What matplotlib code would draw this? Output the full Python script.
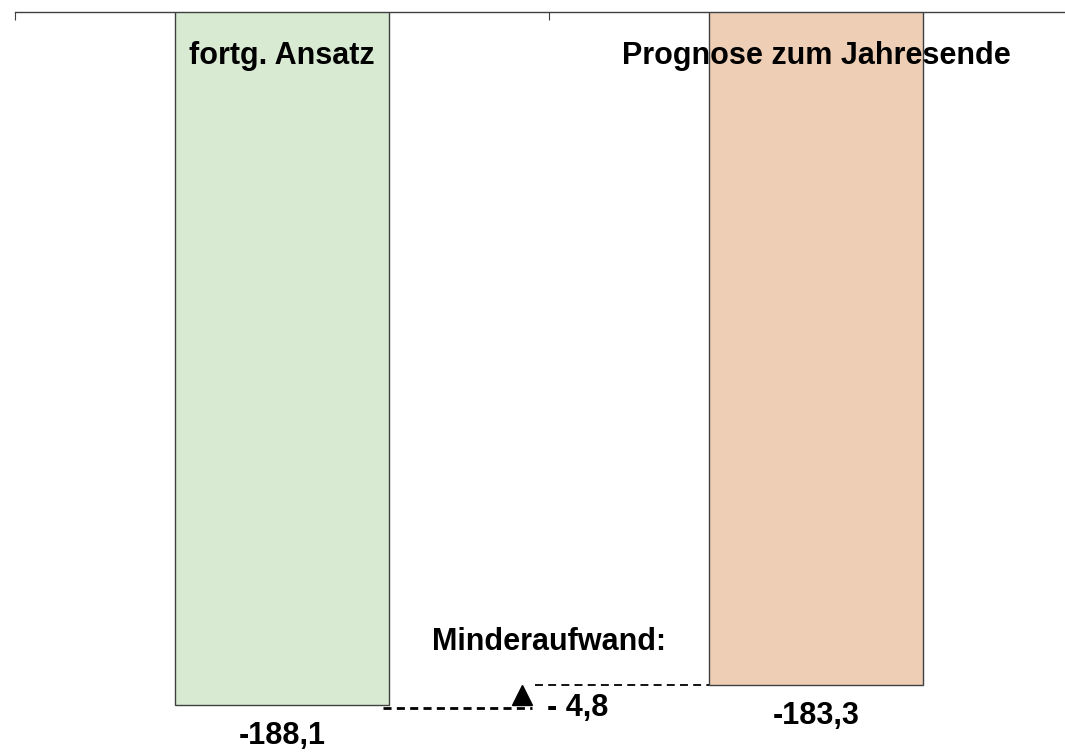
import matplotlib.pyplot as plt

plt.rcParams['font.family'] = ['Liberation Sans', 'DejaVu Sans']

# data
categories = ['fortg. Ansatz', 'Prognose zum Jahresende']
values = [-188.1, -183.3]
value_labels = ['-188,1', '-183,3']
diff_label = '- 4,8'
diff_title = 'Minderaufwand:'
bar_colors = ['#d9ead3', '#eecfb5']

fig = plt.figure(figsize=(10.65, 7.53), dpi=100)
ax = fig.add_axes([15 / 1065, 0, 1068 / 1065, 741 / 753])

x = [0, 1]
width = 0.4
ax.bar(x, values, width=width, color=bar_colors, edgecolor='#404040', linewidth=1.0)

ax.set_xlim(-0.5, 1.5)
ax.set_ylim(-199.6, -21.8)

for s in ['left', 'right', 'bottom']:
    ax.spines[s].set_visible(False)
ax.spines['top'].set_color('#404040')
ax.spines['top'].set_linewidth(1.0)
ax.xaxis.tick_top()
ax.set_xticks([-0.5, 0.5, 1.5])
ax.set_xticklabels([])
ax.tick_params(axis='x', direction='in', length=6, width=0.8, color='#404040')
ax.set_yticks([])

fs = 22
# category labels near the top
for xi, cat in zip(x, categories):
    ax.text(xi, 0.94, cat, transform=ax.get_xaxis_transform(), ha='center', va='center',
            fontsize=fs, fontweight='bold')

# value labels under bars
for xi, v, lab in zip(x, values, value_labels):
    ax.annotate(lab, (xi, v), xytext=(0, -22), textcoords='offset points',
                ha='center', va='center', fontsize=fs, fontweight='bold')

# difference connector
arrow_x = 0.45
mid = (values[0] + values[1]) / 2
ax.plot([x[0] + width / 2 - 0.011, arrow_x + 0.018], [values[0] - 0.6, values[0] - 0.6],
        color='black', linewidth=2.0, dashes=(2.9, 1.9))
ax.plot([arrow_x + 0.024, x[1] - width / 2], [values[1], values[1]],
        color='black', linewidth=1.3, dashes=(4.4, 2.9))
ax.plot([arrow_x], [mid], marker='^', markersize=15, color='black', linestyle='none')

ax.annotate(diff_label, (0.496, mid), xytext=(0, -9.5), textcoords='offset points',
            ha='left', va='center', fontsize=fs, fontweight='bold')
ax.annotate(diff_title, (0.5, values[1]), xytext=(0, 31), textcoords='offset points',
            ha='center', va='center', fontsize=fs, fontweight='bold')

fig.savefig('out.png', dpi=100)
